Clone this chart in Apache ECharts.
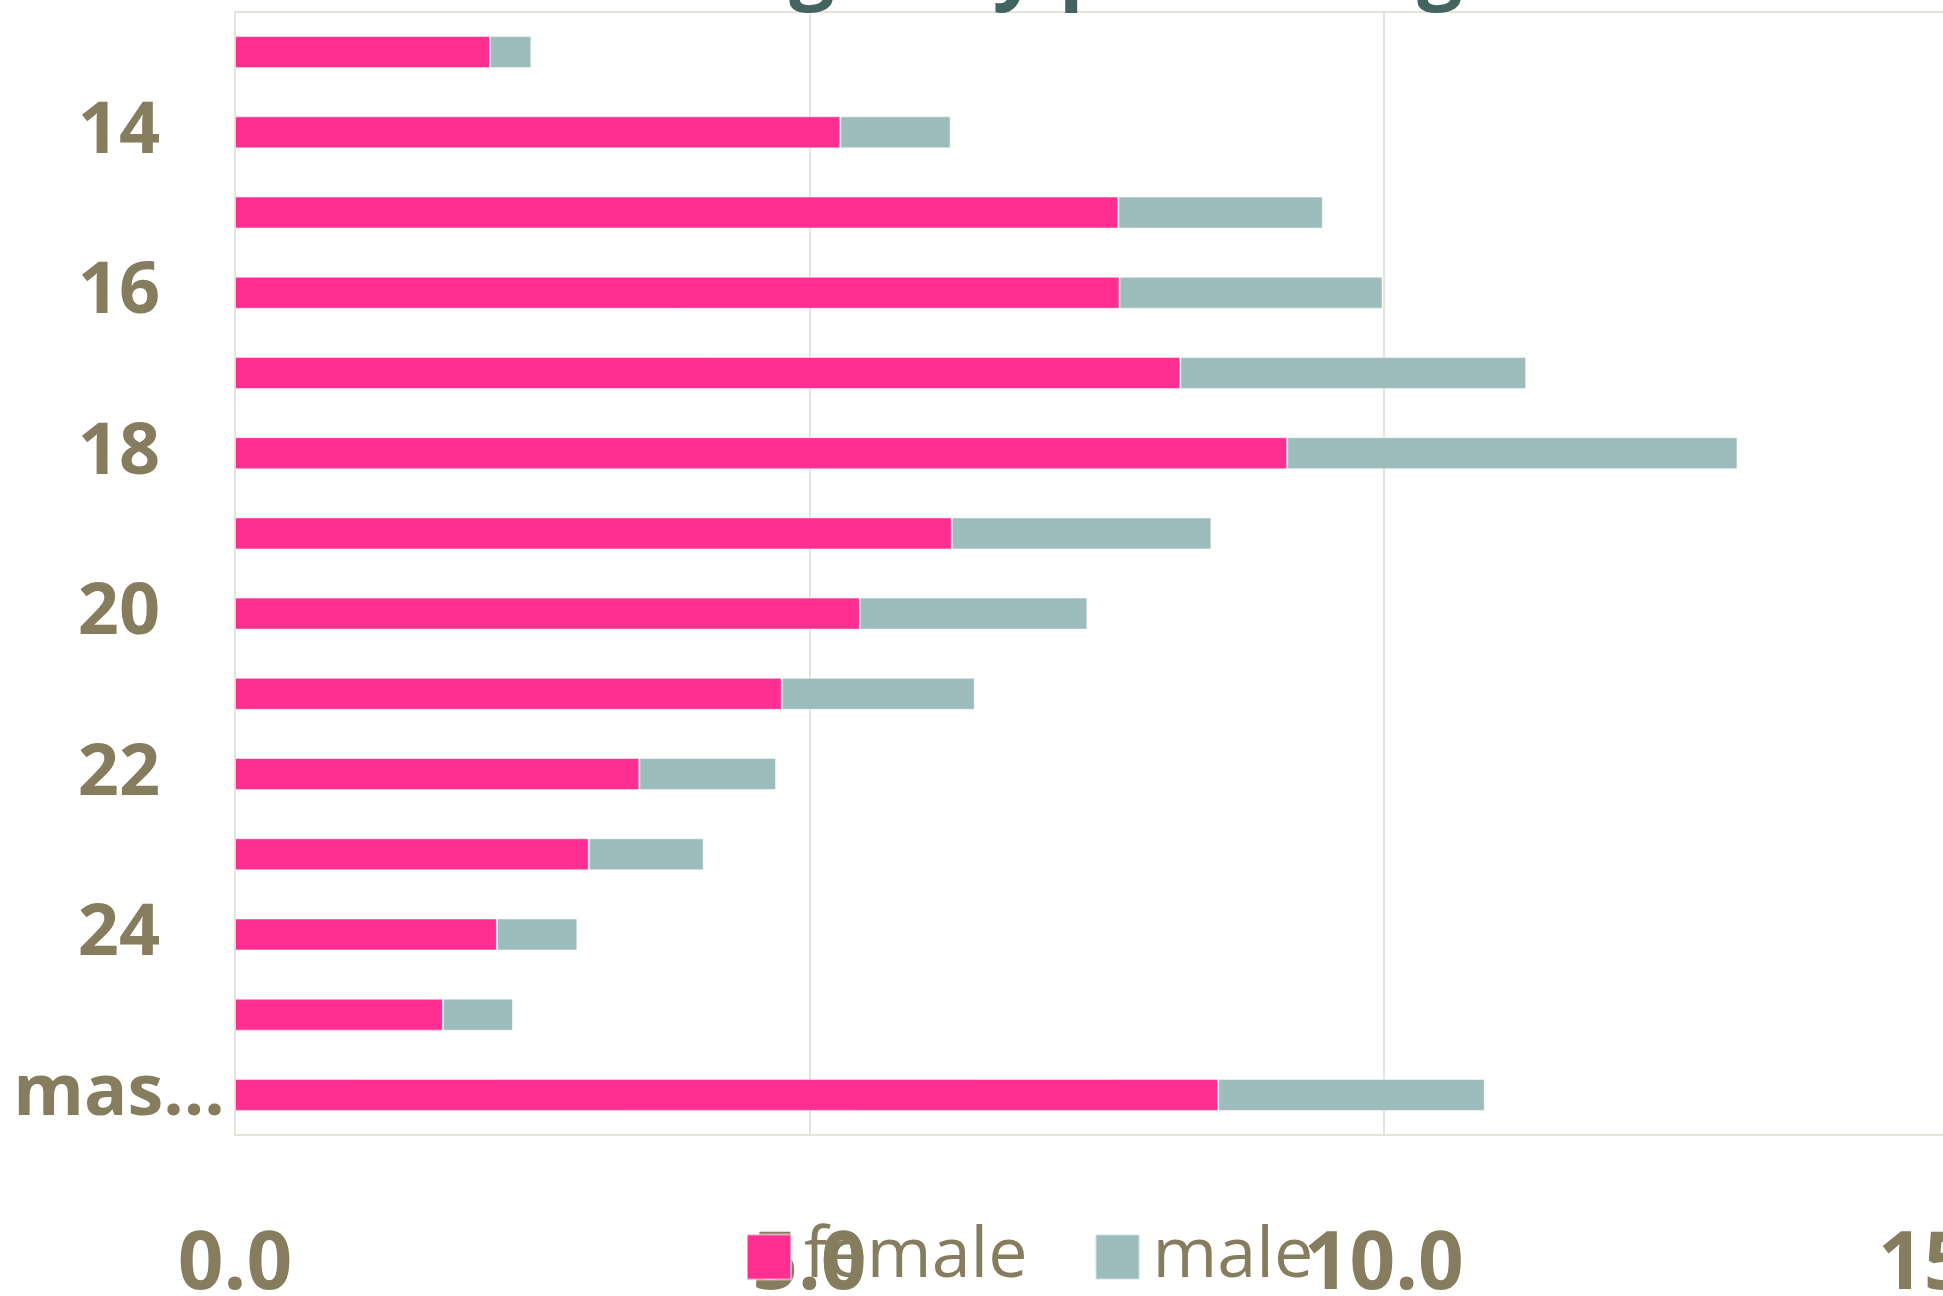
<!DOCTYPE html>
<html>
<head>
<meta charset="utf-8">
<script src="https://cdn.jsdelivr.net/npm/echarts@6/dist/echarts.min.js"></script>
<style>
html,body{margin:0;padding:0;background:#fff;}
#chart{width:1943px;height:1296px;}
</style>
</head>
<body>
<div id="chart"></div>
<script>
// categories listed from bottom row to top row
const categories = ["mas de 25","25","24","23","22","21","20","19","18","17","16","15","14","13"];
const female = [8.56, 1.81, 2.28, 3.08, 3.52, 4.76, 5.44, 6.24, 9.16, 8.23, 7.70, 7.69, 5.27, 2.22];
const male   = [2.32, 0.61, 0.70, 1.00, 1.19, 1.68, 1.98, 2.26, 3.92, 3.01, 2.29, 1.78, 0.96, 0.36];
const xTicks = [0, 5, 10, 15];
const seriesNames = ["female", "male"];
const titleText = "Ages by percentage";

const chart = echarts.init(document.getElementById('chart'));
const labelColor = '#867c5e';
chart.setOption({
  animation: false,
  backgroundColor: '#ffffff',
  title: {
    text: titleText,
    left: 729,
    top: -74,
    textStyle: { fontFamily: 'Open Sans', fontWeight: 'bold', fontSize: 80, color: '#44655f' }
  },
  legend: {
    data: seriesNames,
    left: 741,
    top: 1217,
    itemWidth: 44,
    itemHeight: 45,
    itemGap: 67,
    icon: 'rect',
    textStyle: { fontFamily: 'Open Sans', fontSize: 70, color: labelColor, padding: [0, 0, 0, 8] }
  },
  grid: {
    left: 235,
    top: 12,
    width: 1723,
    height: 1123,
    show: true,
    borderColor: '#e6e3da',
    borderWidth: 2,
    outerBoundsMode: 'none',
    containLabel: false
  },
  xAxis: {
    type: 'value',
    min: xTicks[0],
    max: xTicks[xTicks.length - 1],
    interval: xTicks[1] - xTicks[0],
    axisLine: { show: false },
    axisTick: { show: false },
    splitLine: { lineStyle: { color: '#e6e3da', width: 2 } },
    axisLabel: {
      margin: 91,
      fontFamily: 'Open Sans',
      fontWeight: 'bold',
      fontSize: 80,
      color: labelColor,
      formatter: v => v.toFixed(1)
    }
  },
  yAxis: {
    type: 'category',
    data: categories,
    axisLine: { show: true, lineStyle: { color: '#e6e3da', width: 2 } },
    axisTick: { show: false },
    axisLabel: {
      interval: 1,
      margin: 116,
      align: 'center',
      padding: [12, 0, 0, 0],
      fontFamily: 'Open Sans',
      fontWeight: 'bold',
      fontSize: 72,
      color: labelColor,
      width: 220,
      overflow: 'truncate'
    }
  },
  series: [
    {
      name: seriesNames[0],
      type: 'bar',
      stack: 'total',
      barWidth: 32,
      data: female,
      itemStyle: { color: '#ff2f92', borderColor: 'rgba(255,255,255,0.5)', borderWidth: 1 }
    },
    {
      name: seriesNames[1],
      type: 'bar',
      stack: 'total',
      barWidth: 32,
      data: male,
      itemStyle: { color: '#9dbdbc', borderColor: 'rgba(255,255,255,0.5)', borderWidth: 1 }
    }
  ]
});
</script>
</body>
</html>
